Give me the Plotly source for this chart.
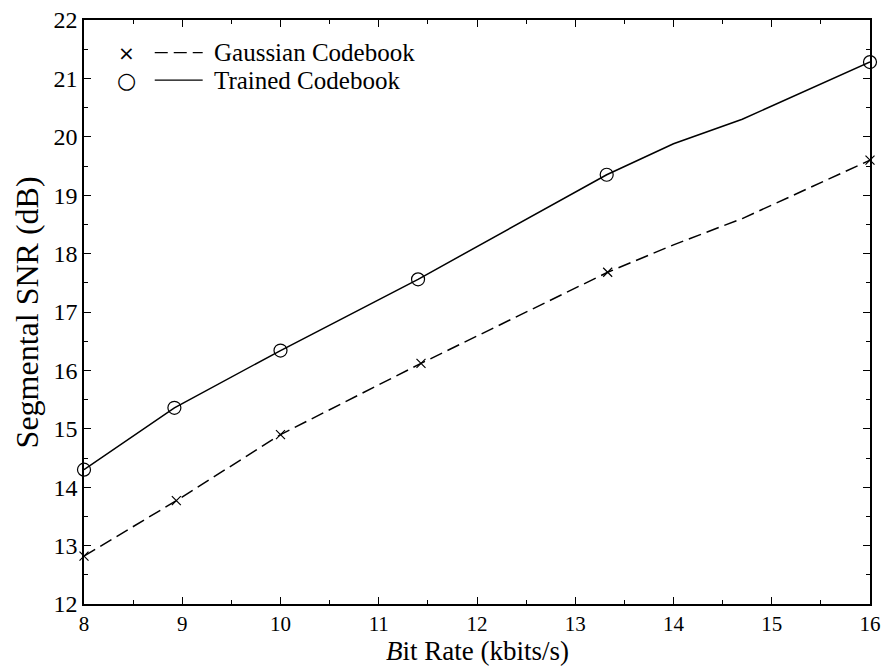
import plotly.graph_objects as go

# Marker points
gauss_x = [8.0, 8.94, 10.0, 11.43, 13.33, 16.0]
gauss_y = [12.82, 13.77, 14.9, 16.12, 17.68, 19.6]
trained_x = [8.0, 8.92, 10.0, 11.40, 13.32, 16.0]
trained_y = [14.3, 15.36, 16.34, 17.56, 19.35, 21.28]

# Line vertices
gauss_line_x = [8.0, 8.94, 10.0, 11.43, 13.33, 14.0, 14.7, 16.0]
gauss_line_y = [12.82, 13.77, 14.9, 16.12, 17.68, 18.15, 18.6, 19.6]
trained_line_x = [8.0, 8.92, 10.0, 11.40, 13.32, 14.0, 14.7, 16.0]
trained_line_y = [14.3, 15.36, 16.34, 17.56, 19.35, 19.88, 20.3, 21.28]

x_ticks = [8, 9, 10, 11, 12, 13, 14, 15, 16]
y_ticks = [12, 13, 14, 15, 16, 17, 18, 19, 20, 21, 22]

FONT = "Liberation Serif, Times New Roman, DejaVu Serif, serif"

fig = go.Figure()
fig.add_trace(go.Scatter(x=gauss_line_x, y=gauss_line_y, mode="lines",
                         line=dict(color="black", width=1.5, dash="13px,6px"),
                         showlegend=False, hoverinfo="skip"))
fig.add_trace(go.Scatter(x=trained_line_x, y=trained_line_y, mode="lines",
                         line=dict(color="black", width=1.5),
                         showlegend=False, hoverinfo="skip"))
fig.add_trace(go.Scatter(x=gauss_x, y=gauss_y, mode="markers", name="Gaussian Codebook",
                         marker=dict(symbol="x-thin-open", size=9, color="black",
                                     line=dict(color="black", width=1.2)),
                         showlegend=False, cliponaxis=False))
fig.add_trace(go.Scatter(x=trained_x, y=trained_y, mode="markers", name="Trained Codebook",
                         marker=dict(symbol="circle-open", size=13, color="black",
                                     line=dict(color="black", width=1.2)),
                         showlegend=False, cliponaxis=False))

# Custom legend (marker symbol, line sample, label)
legend_items = [("×", False, "Gaussian Codebook", 0.944), ("○", True, "Trained Codebook", 0.897)]
for sym, solid, label, yy in legend_items:
    fig.add_annotation(x=0.054, y=yy, xref="paper", yref="paper", text=sym, showarrow=False,
                       font=dict(family="DejaVu Sans", size=22 if sym == "○" else 20, color="black"),
                       xanchor="center", yanchor="middle")
    fig.add_shape(type="line", xref="paper", yref="paper", x0=0.090, x1=0.151, y0=yy, y1=yy,
                  line=dict(color="black", width=1.3, dash="solid" if solid else "13px,6px"))
    fig.add_annotation(x=0.163, y=yy, xref="paper", yref="paper", text=label, showarrow=False,
                       font=dict(family=FONT, size=25, color="black"),
                       xanchor="left", yanchor="middle")

# Axis titles placed as annotations for exact positioning
fig.add_annotation(x=0.5, y=-0.110, xref="paper", yref="paper", text="<i>B</i>it Rate (kbits/s)",
                   showarrow=False, font=dict(family=FONT, size=27, color="black"),
                   xanchor="center", yanchor="bottom")
fig.add_annotation(x=-0.072, y=0.5, xref="paper", yref="paper", text="Segmental SNR (dB)",
                   showarrow=False, textangle=-90, font=dict(family=FONT, size=32, color="black"),
                   xanchor="center", yanchor="middle")

axis_common = dict(showline=True, linecolor="black", linewidth=1.5, mirror="ticks",
                   ticks="inside", ticklen=7, tickwidth=1, tickcolor="black",
                   showgrid=False, zeroline=False, automargin=False,
                   minor=dict(ticks="inside", ticklen=4, tickcolor="black", dtick=0.5, showgrid=False))

fig.update_xaxes(range=[8, 16], tickvals=x_ticks, ticktext=[str(v) for v in x_ticks],
                 ticklabelstandoff=0, tickfont=dict(family=FONT, size=21, color="black"),
                 **axis_common)
fig.update_yaxes(range=[12, 22], tickvals=y_ticks, ticktext=[str(v) for v in y_ticks],
                 tickfont=dict(family=FONT, size=24, color="black"),
                 **axis_common)

fig.update_layout(width=883, height=669, margin=dict(l=84, r=13, t=20, b=65),
                  plot_bgcolor="white", paper_bgcolor="white", showlegend=False)

fig.write_html("out.html")
